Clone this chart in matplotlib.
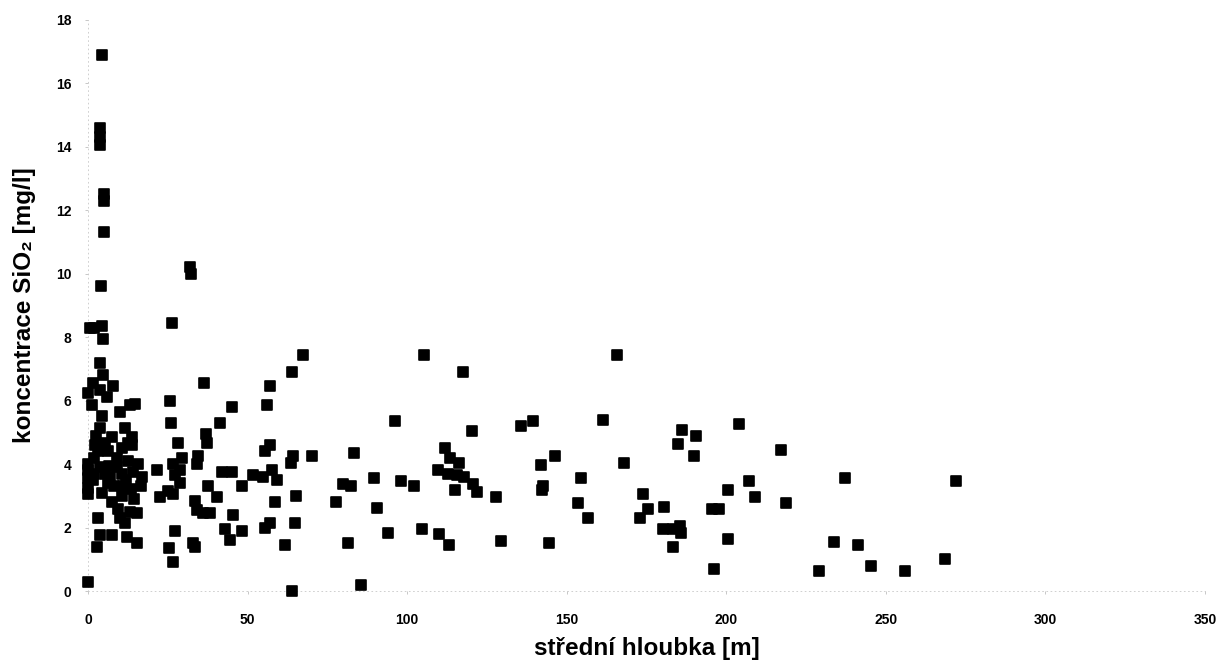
import matplotlib.pyplot as plt
import numpy as np

plt.rcParams['font.family'] = ['Liberation Sans', 'DejaVu Sans']

# střední hloubka vrtu [m] a koncentrace SiO2 [mg/l]
hloubka = np.array([
    4.4, 3.8, 3.8, 3.8, 5.0, 5.0, 5.0, 4.1, 32.0, 32.3,
    0.6, 2.0, 4.4, 4.7, 26.3,
    3.8, 4.7, 1.6, 7.8, 0.1, 3.8, 5.9, 1.2, 13.2, 14.7, 10.0, 4.4, 3.8, 11.6, 7.5, 13.8, 5.3, 12.5,
    0.0, 0.0, 0.0, 0.0, 3.8, 5.3, 3.1, 6.3, 10.7, 13.8, 6.3, 10.7, 12.5, 16.9, 15.7, 21.6,
    7.5, 10.7, 10.0, 13.2, 15.4, 3.1, 3.8, 7.5, 12.2, 15.4, 2.8, 0.0, 11.6, 9.0, 2.0, 8.0,
    1.5, 4.5, 13.5, 9.5, 14.5, 16.5, 12.0, 2.5,
    0.0, 1.8, 6.5, 9.0, 11.0, 14.0, 2.2, 7.0,
    25.7, 26.0, 28.2, 29.4, 26.6, 28.8, 27.3, 28.8, 25.1, 22.6, 26.6, 36.4, 37.0, 37.3, 34.5,
    34.2, 37.6, 40.4, 33.5, 34.2, 36.0, 38.2, 41.4, 45.1, 42.0, 45.1, 48.3, 51.7, 54.9, 56.1,
    57.0, 55.5, 57.0, 57.6, 59.2, 58.6, 57.0, 55.5, 63.9, 67.4, 64.3, 63.6, 65.2, 64.9, 61.7,
    63.8, 45.5, 42.9, 44.5, 48.3, 32.9, 33.5, 27.3, 25.4, 26.6,
    70.2, 83.4, 80.0, 82.4, 77.7, 81.5, 85.6,
    105.3, 117.5, 165.8, 96.2, 135.7, 139.5, 161.4, 120.3, 111.9, 113.4, 116.3, 142.0, 146.3,
    168.0, 109.7, 112.8, 115.6, 117.8, 120.6, 121.9, 115.0, 89.6, 98.1, 102.2, 90.6, 127.9,
    142.3, 142.6, 154.5, 153.6, 156.7, 173.9, 175.5, 173.0, 180.5, 180.2, 183.3, 183.3, 94.0,
    104.7, 110.0, 113.1, 129.4, 144.5,
    186.2, 190.5, 184.9, 189.9, 204.0, 217.2, 237.2, 272.0, 207.1, 200.6, 209.0, 218.7, 195.5,
    197.8, 185.5, 185.8, 200.6, 233.8, 241.3, 196.2, 229.1, 245.4, 256.0, 268.6,
])
sio2 = np.array([
    16.9, 14.6, 14.3, 14.05, 12.5, 12.3, 11.3, 9.6, 10.2, 10.0,
    8.3, 8.3, 8.35, 7.95, 8.45,
    7.2, 6.8, 6.55, 6.45, 6.25, 6.35, 6.1, 5.85, 5.85, 5.9, 5.65, 5.5, 5.15, 5.15, 4.85, 4.85, 4.65, 4.65,
    3.8, 3.25, 3.05, 4.0, 3.9, 3.7, 4.4, 4.4, 4.5, 4.6, 3.4, 3.7, 4.1, 3.6, 4.0, 3.8,
    2.8, 3.0, 2.3, 2.5, 2.45, 2.3, 1.75, 1.75, 1.7, 1.5, 1.4, 0.3, 2.15, 4.2, 4.2, 3.3,
    3.5, 3.1, 3.2, 2.6, 2.9, 3.3, 3.5, 4.9,
    3.55, 3.7, 3.95, 3.9, 3.3, 3.75, 4.6, 3.6,
    6.0, 5.3, 4.65, 4.2, 4.0, 3.8, 3.65, 3.4, 3.15, 2.95, 3.05, 6.55, 4.95, 4.65, 4.25,
    4.0, 3.3, 2.95, 2.85, 2.55, 2.45, 2.45, 5.3, 5.8, 3.75, 3.75, 3.3, 3.65, 3.6, 5.85,
    6.45, 4.4, 4.6, 3.8, 3.5, 2.8, 2.15, 2.0, 6.9, 7.45, 4.25, 4.05, 2.98, 2.15, 1.45,
    0.0, 2.4, 1.95, 1.6, 1.9, 1.5, 1.4, 1.9, 1.35, 0.9,
    4.25, 4.35, 3.38, 3.3, 2.82, 1.5, 0.19,
    7.45, 6.9, 7.45, 5.35, 5.2, 5.35, 5.4, 5.05, 4.5, 4.2, 4.05, 3.98, 4.25,
    4.05, 3.8, 3.7, 3.65, 3.6, 3.38, 3.13, 3.17, 3.57, 3.48, 3.3, 2.63, 2.95,
    3.17, 3.3, 3.57, 2.76, 2.29, 3.07, 2.57, 2.29, 2.66, 1.97, 1.97, 1.38, 1.82,
    1.97, 1.79, 1.44, 1.57, 1.5,
    5.08, 4.89, 4.64, 4.26, 5.27, 4.45, 3.57, 3.48, 3.48, 3.17, 2.95, 2.76, 2.57,
    2.57, 2.04, 1.82, 1.63, 1.54, 1.44, 0.69, 0.63, 0.78, 0.63, 1.0,
])

x_ticks = [0, 50, 100, 150, 200, 250, 300, 350]
y_ticks = [0, 2, 4, 6, 8, 10, 12, 14, 16, 18]

fig = plt.figure(figsize=(12.19, 6.6), dpi=100)
ax = fig.add_axes([0.0722, 0.1045, 0.9163, 0.8655])

ax.scatter(hloubka, sio2, marker='s', s=62, c='black', edgecolors='black',
           linewidths=1.2, clip_on=False, zorder=3)

ax.set_xlim(0, 350)
ax.set_ylim(0, 18)
ax.set_xticks(x_ticks)
ax.set_yticks(y_ticks)

for side in ['top', 'right']:
    ax.spines[side].set_visible(False)
for side in ['left', 'bottom']:
    ax.spines[side].set_color('#c8c8c8')
    ax.spines[side].set_linewidth(0.6)
    ax.spines[side].set_linestyle((0, (1, 4)))

ax.tick_params(axis='x', length=2, width=0.5, color='#b0b0b0', pad=14, labelsize=10)
ax.tick_params(axis='y', length=2, width=0.5, color='#b0b0b0', pad=10, labelsize=10)
for lab in ax.get_xticklabels() + ax.get_yticklabels():
    lab.set_fontweight('bold')

ax.set_xlabel('střední hloubka [m]', fontsize=17.5, fontweight='bold', labelpad=7)
ax.set_ylabel('koncentrace SiO₂ [mg/l]', fontsize=17.5, fontweight='bold', labelpad=14)

fig.savefig('out.png', dpi=100)
